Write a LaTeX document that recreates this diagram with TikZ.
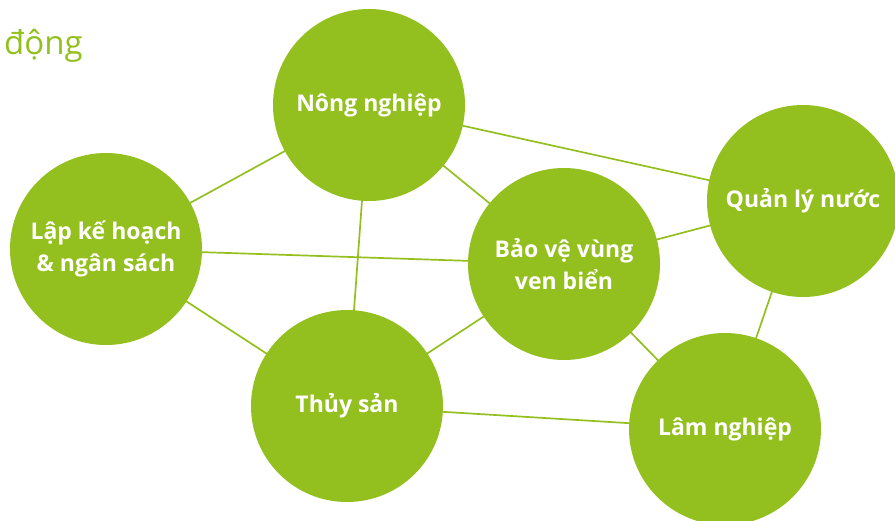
\documentclass[tikz,border=0pt]{standalone}
\usepackage{fontspec}
\setmainfont{Open Sans}
\usetikzlibrary{backgrounds}
\definecolor{leaf}{RGB}{147,192,31}
\tikzset{
    topic/.style={circle,fill=leaf,draw=none,minimum size=192pt,inner sep=0pt,text=white,align=center,font=\bfseries\fontsize{23}{32}\selectfont},
    link/.style={draw=leaf,line width=1.7pt}
}

\begin{document}
\begin{tikzpicture}[x=1pt,y=-1pt]
    \useasboundingbox (0,0) rectangle (895,521);
    \node[anchor=base west,text=leaf,font=\fontsize{33}{36}\selectfont,inner sep=0pt] (title) at (4,55) {động};
    \node[topic] (nong) at (369,105) {Nông nghiệp};
    \node[topic] (lap) at (106,249) {Lập kế hoạch\\\& ngân sách};
    \node[topic] (bao) at (564,264) {Bảo vệ vùng\\ven biển};
    \node[topic] (nuoc) at (803,201) {Quản lý nước};
    \node[topic] (thuy) at (347,406) {Thủy sản};
    \node[topic] (lam) at (725,429) {Lâm nghiệp};
    \begin{scope}[on background layer]
        \draw[link] (lap.center) -- (nong.center);
        \draw[link] (lap.center) -- (bao.center);
        \draw[link] (lap.center) -- (thuy.center);
        \draw[link] (nong.center) -- (thuy.center);
        \draw[link] (nong.center) -- (bao.center);
        \draw[link] (nong.center) -- (nuoc.center);
        \draw[link] (bao.center) -- (nuoc.center);
        \draw[link] (bao.center) -- (thuy.center);
        \draw[link] (bao.center) -- (lam.center);
        \draw[link] (nuoc.center) -- (lam.center);
        \draw[link] (thuy.center) -- (lam.center);
    \end{scope}
\end{tikzpicture}
\end{document}
